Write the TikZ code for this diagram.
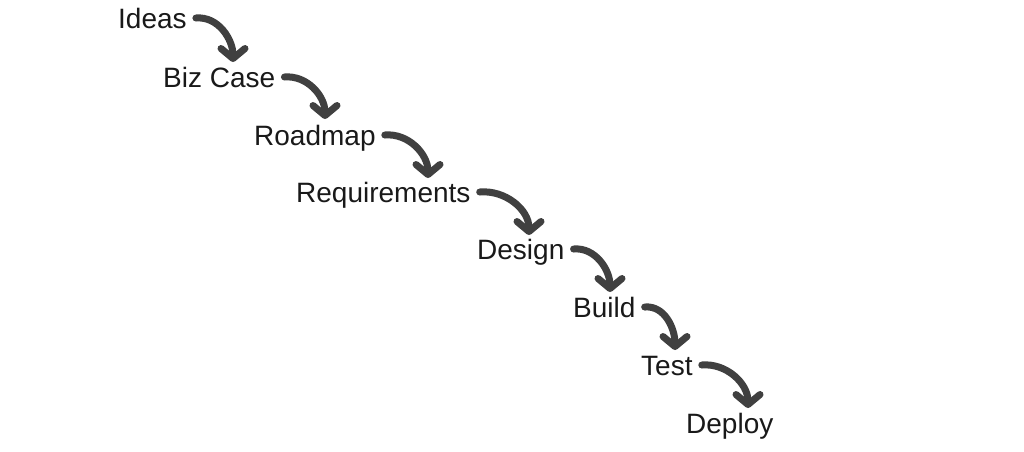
\documentclass[tikz,border=0pt]{standalone}
\usepackage{fontspec}
\setmainfont{Liberation Sans}
\usetikzlibrary{arrows.meta}
\definecolor{arrowgray}{HTML}{404040}
\tikzset{
  stage/.style={anchor=base west, inner sep=0pt, text height=21pt, text depth=1pt,
    font=\fontsize{28}{31}\selectfont, text=black!90},
  flow/.style={draw=arrowgray, line width=7pt, line cap=round,
    -{Straight Barb[length=10pt, width=24pt, line cap=round, line join=round]}},
}
\begin{document}
\begin{tikzpicture}[x=1pt, y=-1pt]
        \useasboundingbox (0,0) rectangle (1024,451);
        % waterfall stages
        \node[stage] (ideas) at (118,28) {Ideas};
        \node[stage] (bizcase) at (163,87) {Biz Case};
        \node[stage] (roadmap) at (254,145) {Roadmap};
        \node[stage] (reqs) at (296,202) {Requirements};
        \node[stage] (design) at (477,259) {Design};
        \node[stage] (build) at (573,317) {Build};
        \node[stage] (test) at (641,375) {Test};
        \node[stage] (deploy) at (686,433) {Deploy};

        % arrow tips above the next stage
        \coordinate (tip1) at (233,62);
        \coordinate (tip2) at (325,119);
        \coordinate (tip3) at (428,178);
        \coordinate (tip4) at (529,235);
        \coordinate (tip5) at (610,292);
        \coordinate (tip6) at (675,350);
        \coordinate (tip7) at (748,408);

        \draw[flow] ([xshift=9pt]ideas.east) to[out=5, in=90] (tip1);
        \draw[flow] ([xshift=9pt]bizcase.east) to[out=5, in=90] (tip2);
        \draw[flow] ([xshift=9pt]roadmap.east) to[out=5, in=90] (tip3);
        \draw[flow] ([xshift=9pt]reqs.east) to[out=5, in=90] (tip4);
        \draw[flow] ([xshift=9pt]design.east) to[out=5, in=90] (tip5);
        \draw[flow] ([xshift=9pt]build.east) to[out=5, in=90] (tip6);
        \draw[flow] ([xshift=9pt]test.east) to[out=5, in=90] (tip7);
\end{tikzpicture}
\end{document}
